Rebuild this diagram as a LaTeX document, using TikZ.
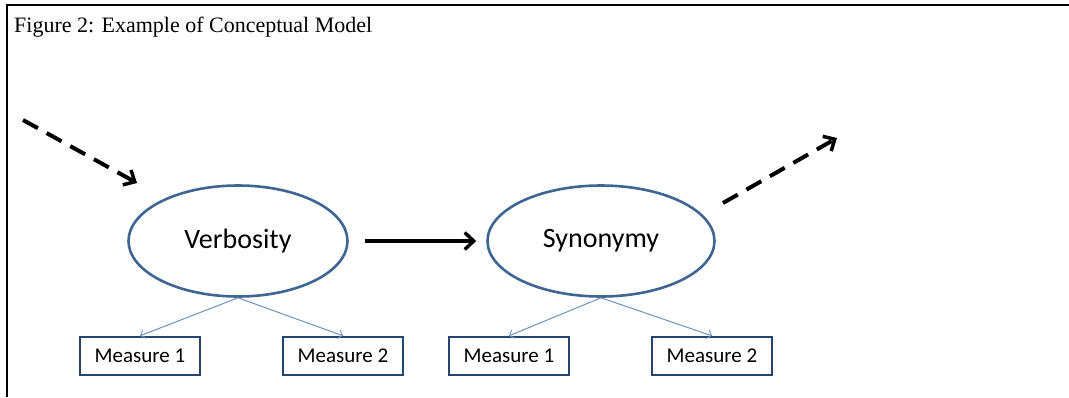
\documentclass[tikz,border=0pt]{standalone}
\usepackage{fontspec}
\setmainfont{Liberation Serif}
\newfontfamily\calfont{Carlito}
\usetikzlibrary{arrows.meta,shapes.geometric}
\definecolor{ellline}{HTML}{3F6593}
\definecolor{boxline}{HTML}{23456F}
\definecolor{thinline}{HTML}{6F93C0}
\begin{document}
\begin{tikzpicture}[x=1pt,y=-1pt,
  latent/.style={ellipse,draw=ellline,line width=2.6pt,inner sep=0pt,
    font=\calfont\fontsize{28}{32}\selectfont},
  measbox/.style={rectangle,draw=boxline,line width=2.4pt,inner sep=0pt,
    minimum width=120pt,minimum height=38pt,
    font=\calfont\fontsize{21}{25}\selectfont},
  dasharrow/.style={line width=4pt,dash pattern=on 17pt off 10pt,
    -{Straight Barb[length=9pt,width=17pt,line width=3.5pt]}},
  patharrow/.style={line width=3.6pt,
    -{Straight Barb[length=9pt,width=17pt,line width=3.4pt]}},
  loadarrow/.style={draw=thinline,line width=1pt,
    -{Straight Barb[length=4pt,width=9pt,line width=0.9pt]}},
  frameline/.style={line width=2.8pt}]
\useasboundingbox (0,0) rectangle (1069,397);
\fill[white] (0,0) rectangle (1069,397);
% frame
\draw[frameline] (7,397) -- (7,5) -- (1069,5);
% title
\node[anchor=base west,inner sep=0pt,font=\fontsize{22}{26}\selectfont] (title) at (14,32) {Figure 2: Example of Conceptual Model};
% latent variables
\node[latent,minimum width=219pt,minimum height=111pt] (verb) at (238,241) {Verbosity};
\node[latent,minimum width=227pt,minimum height=111pt] (syn) at (601,241) {Synonymy};
% measures
\node[measbox] (m1) at (140,356) {Measure 1};
\node[measbox] (m2) at (343,356) {Measure 2};
\node[measbox] (m3) at (509,356) {Measure 1};
\node[measbox] (m4) at (712,356) {Measure 2};
% loadings
\draw[loadarrow] (verb.south) -- (m1.north);
\draw[loadarrow] (verb.south) -- (m2.north);
\draw[loadarrow] (syn.south) -- (m3.north);
\draw[loadarrow] (syn.south) -- (m4.north);
% path
\draw[patharrow] ([xshift=16pt]verb.east) -- ([xshift=-10pt]syn.west);
% dashed in/out arrows
\coordinate (inStart) at (23,120);
\coordinate (inEnd) at (137,183);
\coordinate (outStart) at (723,203);
\coordinate (outEnd) at (837,138);
\draw[dasharrow] (inStart) -- (inEnd);
\draw[dasharrow] (outStart) -- (outEnd);
\end{tikzpicture}
\end{document}
